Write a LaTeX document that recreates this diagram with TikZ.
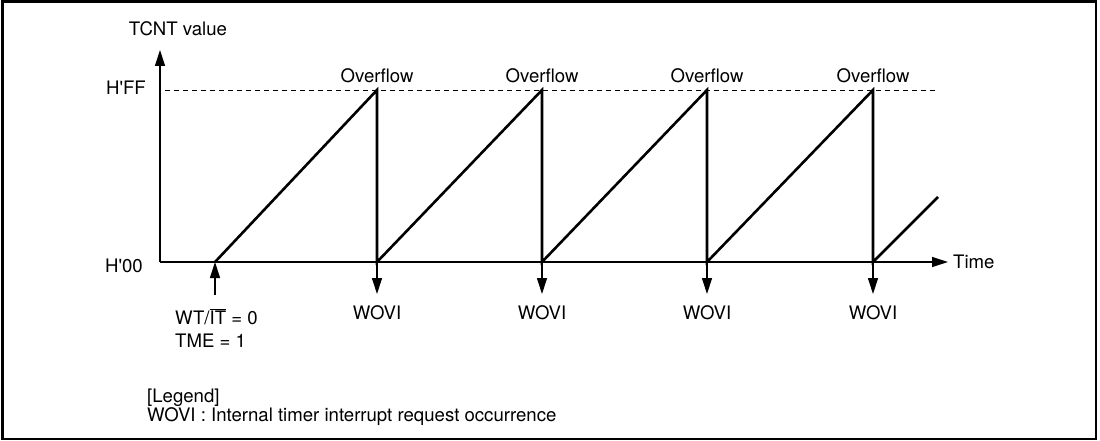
\documentclass[tikz,border=0pt]{standalone}
\usepackage{fontspec}
\setmainfont{TeX Gyre Heros}
\usetikzlibrary{arrows.meta}

\tikzset{
  tip/.style={-{Triangle[length=16pt,width=10pt]}},
  axis/.style={line width=1.2pt, tip},
  ramp/.style={line width=2.6pt},
  event/.style={line width=1.2pt, tip},
  lbl/.style={font=\fontsize{18.6}{21}\selectfont, inner sep=0pt},
}

\begin{document}
\begin{tikzpicture}[x=1pt,y=1pt]
	 \useasboundingbox (0,0) rectangle (1100,440);
	 \draw[line width=2.6pt] (2.5,1) rectangle (1096,438.5);

	 % axes
	 \coordinate (origin) at (160,178);
	 \coordinate (ytip) at (160,390);
	 \coordinate (xtip) at (948,178);
	 \draw[axis] (origin) -- (ytip);
	 \draw[axis] (origin) -- (xtip);
	 \node[lbl, anchor=base] (yname) at (178,404) {TCNT value};
	 \node[lbl, anchor=base west] (xname) at (953,172) {Time};

	 \node[lbl, anchor=base east] (hff) at (146,345) {H\textquotesingle FF};
	 \node[lbl, anchor=base east] (hzero) at (143,168) {H\textquotesingle 00};
	 \coordinate (ffleft) at (165,350);
	 \coordinate (ffright) at (935,350);
	 \draw[line width=0.8pt, dash pattern=on 5pt off 4pt] (ffleft) -- (ffright);

	 % counter
	 \coordinate (start) at (215,178);
	 \coordinate (last) at (938,243);
	 \foreach \x [count=\i] in {377,542,707,873} {
		 \coordinate (top\i) at (\x,350);
		 \coordinate (bot\i) at (\x,178);
		 \coordinate (ev\i) at (\x,146);
		 \node[lbl, anchor=base] (over\i) at (\x,357) {Overflow};
		 \node[lbl, anchor=base] (wovi\i) at (\x,121) {WOVI};
		 \draw[event] (bot\i) -- (ev\i);
	 }
	 \draw[ramp] (start) -- (top1) -- (bot1) -- (top2) -- (bot2) -- (top3)
		 -- (bot3) -- (top4) -- (bot4) -- (last);

	 % start condition
	 \coordinate (trig) at (215,145);
	 \draw[event] (trig) -- (start);
	 \node[lbl, anchor=base west] (cond1) at (175,116) {WT/$\overline{\mbox{IT}}$ = 0};
	 \node[lbl, anchor=base west] (cond2) at (175,93) {TME = 1};

	 % legend
	 \node[lbl, anchor=base west] (legend) at (147,38) {[Legend]};
	 \node[lbl, anchor=base west] (legwovi) at (147,19) {WOVI : Internal timer interrupt request occurrence};
\end{tikzpicture}
\end{document}
